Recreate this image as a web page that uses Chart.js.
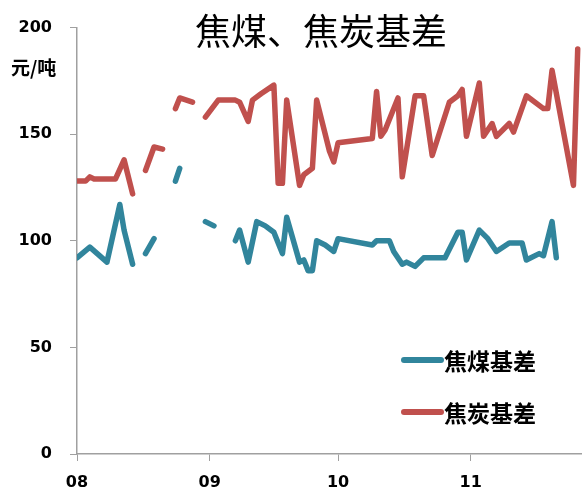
<!DOCTYPE html>
<html>
<head>
<meta charset="utf-8">
<script src="https://cdn.jsdelivr.net/npm/chart.js@4"></script>
<style>
  html, body { margin: 0; padding: 0; background: #fff; }
  #wrap { width: 582px; height: 491px; }
</style>
</head>
<body>
<div id="wrap"><canvas id="basis"></canvas></div>
<script>
// x = days since Aug 1, month ticks at the start of each month
const monthTicks = [0, 31, 61, 92];
const monthLabels = ['08', '09', '10', '11'];

// 焦煤基差 (null = break in the line)
const coalDays = [0, 3, 7, 10, 11, 13, 15, 16, 18, 20, 23, 24, 27, 30, 32, 34, 37, 38, 40, 42, 44, 46, 48, 49,
  52, 53, 54, 55, 56, 58, 60, 61, 69, 70, 73, 74, 76, 77, 79, 81, 86, 89, 90, 91, 94, 96, 98, 101, 104, 105,
  108, 109, 111, 112];
const coalBasis = [92, 97, 90, 117, 105, 89, null, 94, 101, null, 128, 134, null, 109, 107, null, 100, 105, 90, 109, 107, 104, 94, 111,
  90, 91, 86, 86, 100, 98, 95, 101, 98, 100, 100, 95, 89, 90, 88, 92, 92, 104, 104, 91, 105, 101, 95, 99, 99, 91,
  94, 93, 109, 92];

// 焦炭基差
const cokeDays = [0, 2, 3, 4, 9, 11, 13, 15, 16, 18, 20, 22, 23, 24, 27, 29, 30, 33, 37, 38, 40, 41, 43, 46, 47, 48, 49,
  52, 53, 55, 56, 59, 60, 61, 69, 70, 71, 72, 75, 76, 79, 81, 83, 87, 89, 90, 91, 94, 95, 97, 98, 101, 102,
  105, 109, 110, 111, 116, 117];
const cokeBasis = [128, 128, 130, 129, 129, 138, 122, null, 133, 144, 143, null, 162, 167, 165, null, 158, 166, 166, 165, 156, 166, 169, 173, 127, 127, 166,
  126, 131, 134, 166, 142, 137, 146, 148, 170, 149, 152, 167, 130, 168, 168, 140, 165, 168, 171, 149, 174, 149, 155, 149, 155, 151,
  168, 162, 162, 180, 126, 190];

const seriesNames = ['焦煤基差', '焦炭基差'];
const seriesColors = ['#31859C', '#C0504D'];

const toPoints = (days, vals) => days.map((d, i) => ({ x: d, y: vals[i] }));

const tickFont = { family: 'DejaVu Sans', size: 16, weight: 'bold' };
const axisGrey = '#A0A0A0';

const overlayText = {
  id: 'overlayText',
  afterDraw(chart) {
    const c = chart.ctx;
    c.save();
    c.fillStyle = '#000';
    c.textBaseline = 'middle';

    c.font = '36px "Noto Sans CJK SC"';
    c.textAlign = 'center';
    c.fillText('焦煤、焦炭基差', 321, 31);

    c.font = 'bold 19px "Noto Sans CJK SC"';
    c.textAlign = 'left';
    c.fillText('元/吨', 11, 68);

    // legend inside the plot
    const rows = [360, 412];
    chart.data.datasets.forEach((ds, i) => {
      const y = rows[i];
      c.strokeStyle = ds.borderColor;
      c.lineWidth = 6;
      c.lineCap = 'round';
      c.beginPath();
      c.moveTo(404, y);
      c.lineTo(441, y);
      c.stroke();
      c.fillStyle = '#000';
      c.font = 'bold 23px "Noto Sans CJK SC"';
      c.fillText(ds.label, 444, y + 1);
    });
    c.restore();
  }
};

const lineStyle = {
  borderWidth: 5.5,
  pointRadius: 0,
  tension: 0,
  spanGaps: false,
  fill: false,
  borderCapStyle: 'round',
  borderJoinStyle: 'round'
};

new Chart(document.getElementById('basis').getContext('2d'), {
  type: 'line',
  data: {
    datasets: [
      { ...lineStyle, label: seriesNames[0], data: toPoints(coalDays, coalBasis), borderColor: seriesColors[0], backgroundColor: seriesColors[0] },
      { ...lineStyle, label: seriesNames[1], data: toPoints(cokeDays, cokeBasis), borderColor: seriesColors[1], backgroundColor: seriesColors[1] }
    ]
  },
  options: {
    responsive: true,
    maintainAspectRatio: false,
    animation: false,
    layout: { padding: { top: 16, left: 0, right: 0, bottom: 0 } },
    plugins: {
      legend: { display: false },
      title: { display: false },
      tooltip: { enabled: false }
    },
    scales: {
      x: {
        type: 'linear',
        min: 0,
        max: 118,
        afterBuildTicks: s => { s.ticks = monthTicks.map(v => ({ value: v })); },
        afterFit: s => { s.height = 37; },
        ticks: {
          autoSkip: false,
          maxRotation: 0,
          padding: 12,
          color: '#000',
          font: tickFont,
          callback: v => monthLabels[monthTicks.indexOf(v)]
        },
        grid: { drawOnChartArea: false, tickLength: 7, color: axisGrey },
        border: { color: axisGrey, width: 1.5 }
      },
      y: {
        min: 0,
        max: 200,
        afterFit: s => { s.width = 77; },
        ticks: { stepSize: 50, padding: 18, color: '#000', font: tickFont },
        grid: { drawOnChartArea: false, tickLength: 7, color: axisGrey },
        border: { color: axisGrey, width: 1.5 }
      }
    }
  },
  plugins: [overlayText]
});
</script>
</body>
</html>
